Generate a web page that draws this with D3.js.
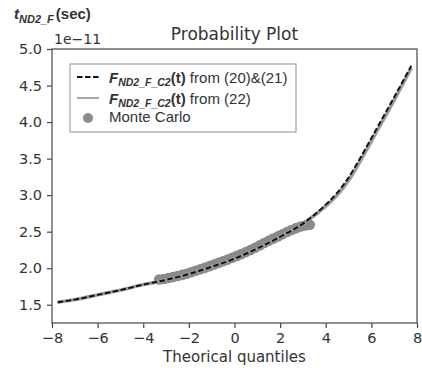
<!DOCTYPE html>
<html>
<head>
<meta charset="utf-8">
<script src="https://d3js.org/d3.v7.min.js"></script>
<style>
  body { margin: 0; background: #fff; }
  svg text { fill: #333; }
</style>
</head>
<body>
<svg id="chart" width="422" height="373"></svg>
<script>
// theoretical quantiles for the model curves
var curveQ = [-7.75, -7, -6, -5, -4, -3, -2, -1, 0, 1, 2, 3, 4, 4.5, 5, 5.5, 6, 7, 7.75];
// F_ND2_F_C2(t) from (20)&(21), units of 1e-11 s
var eq2021 = [1.535, 1.57, 1.635, 1.70, 1.775, 1.84, 1.92, 2.02, 2.13, 2.27, 2.43, 2.61, 2.87, 3.03, 3.24, 3.50, 3.78, 4.34, 4.77];
// F_ND2_F_C2(t) from (22)
var eq22 = [1.535, 1.57, 1.635, 1.70, 1.775, 1.84, 1.92, 2.02, 2.13, 2.27, 2.43, 2.61, 2.85, 3.00, 3.20, 3.46, 3.74, 4.30, 4.74];

// Monte Carlo samples (quantile, value)
var mcQ = [-3.3, -3.1, -2.9, -2.7, -2.5, -2.3, -2.1, -1.9, -1.7, -1.5, -1.3, -1.1, -0.9, -0.7, -0.5, -0.3, -0.1,
           0.1, 0.3, 0.5, 0.7, 0.9, 1.1, 1.3, 1.5, 1.7, 1.9, 2.1, 2.3, 2.5, 2.7, 2.9, 3.1, 3.3];
var mcVal = [1.845, 1.852, 1.865, 1.878, 1.893, 1.908, 1.925, 1.945, 1.965, 1.985, 2.005, 2.028, 2.05, 2.073, 2.095, 2.118, 2.142,
             2.168, 2.193, 2.22, 2.25, 2.28, 2.312, 2.345, 2.375, 2.405, 2.435, 2.465, 2.495, 2.522, 2.548, 2.57, 2.585, 2.595];

var xTicks = [-8, -6, -4, -2, 0, 2, 4, 6, 8];
var yTicks = [1.5, 2.0, 2.5, 3.0, 3.5, 4.0, 4.5, 5.0];

var margin = {top: 49, right: 6, bottom: 50, left: 52},
    width = 417 - margin.left,
    height = 323 - margin.top;

var svg = d3.select("#chart");
var g = svg.append("g")
    .attr("transform", "translate(" + margin.left + "," + margin.top + ")");

var x = d3.scaleLinear().domain([-8, 8]).range([0, width]);
var y = d3.scaleLinear().domain([1.25, 5.0]).range([height, 0]);

var tickFont = "'DejaVu Sans', sans-serif";

// axes
var xAxis = g.append("g")
    .attr("transform", "translate(0," + height + ")")
    .call(d3.axisBottom(x).tickValues(xTicks).tickSize(5).tickPadding(5)
        .tickFormat(function(d) { return d < 0 ? "\u2212" + (-d) : d; }));
var yAxis = g.append("g")
    .call(d3.axisLeft(y).tickValues(yTicks).tickSize(5).tickPadding(5).tickFormat(d3.format(".1f")));

[xAxis, yAxis].forEach(function(a) {
    a.select(".domain").remove();
    a.selectAll("line").attr("stroke", "#444").attr("stroke-width", 1.2);
    a.selectAll("text").style("font-family", tickFont).style("font-size", "14.5px").attr("fill", "#333");
});

// frame
g.append("rect")
    .attr("width", width).attr("height", height)
    .attr("fill", "none").attr("stroke", "#555").attr("stroke-width", 1.3);

var line = d3.line()
    .x(function(d) { return x(d[0]); })
    .y(function(d) { return y(d[1]); })
    .curve(d3.curveMonotoneX);

// Monte Carlo points
g.selectAll(".mc")
    .data(d3.zip(mcQ, mcVal))
    .enter().append("circle")
    .attr("cx", function(d) { return x(d[0]); })
    .attr("cy", function(d) { return y(d[1]); })
    .attr("r", 5.3)
    .attr("fill", "#8a8a8a");

// (22) solid gray
g.append("path")
    .datum(d3.zip(curveQ, eq22))
    .attr("d", line)
    .attr("fill", "none")
    .attr("stroke", "#9a9a9a")
    .attr("stroke-width", 3.5);

// (20)&(21) dashed black
g.append("path")
    .datum(d3.zip(curveQ, eq2021))
    .attr("d", line)
    .attr("fill", "none")
    .attr("stroke", "#111")
    .attr("stroke-width", 2)
    .attr("stroke-dasharray", "5.5,2.5");

// title and labels
svg.append("text")
    .attr("x", margin.left + width / 2).attr("y", 40)
    .attr("text-anchor", "middle")
    .style("font-family", tickFont).style("font-size", "17px")
    .text("Probability Plot");

svg.append("text")
    .attr("x", 54).attr("y", 44)
    .style("font-family", tickFont).style("font-size", "14px")
    .text("1e\u221211");

svg.append("text")
    .attr("x", margin.left + width / 2).attr("y", 362)
    .attr("text-anchor", "middle")
    .style("font-family", tickFont).style("font-size", "15px")
    .text("Theorical quantiles");

var arial = "'Liberation Sans', Arial, sans-serif";
var yl = svg.append("text")
    .attr("x", 14).attr("y", 19)
    .style("font-family", arial).style("font-weight", "bold").style("font-size", "15px");
yl.append("tspan").style("font-style", "italic").text("t");
yl.append("tspan").attr("dy", 4).style("font-style", "italic").style("font-size", "11px").text("ND2_F");
yl.append("tspan").attr("dy", -4).attr("dx", 2).text("(sec)");

// legend
var lg = svg.append("g");
lg.append("rect")
    .attr("x", 70).attr("y", 64).attr("width", 226).attr("height", 68)
    .attr("fill", "#fff").attr("stroke", "#aaa").attr("stroke-width", 1.3);

lg.append("line").attr("x1", 77).attr("x2", 99).attr("y1", 77).attr("y2", 77)
    .attr("stroke", "#111").attr("stroke-width", 2).attr("stroke-dasharray", "5.5,2.5");
lg.append("line").attr("x1", 77).attr("x2", 99).attr("y1", 98).attr("y2", 98)
    .attr("stroke", "#888").attr("stroke-width", 1.5);
lg.append("circle").attr("cx", 88).attr("cy", 118).attr("r", 5).attr("fill", "#8a8a8a");

function legendEntry(yy, rest) {
    var t = lg.append("text").attr("x", 109).attr("y", yy)
        .style("font-family", arial).style("font-size", "15px");
    t.append("tspan").style("font-weight", "bold").style("font-style", "italic").text("F");
    t.append("tspan").attr("dy", 3).style("font-weight", "bold").style("font-style", "italic")
        .style("font-size", "10.5px").text("ND2_F_C2");
    t.append("tspan").attr("dy", -3).style("font-weight", "bold").text("(t)");
    t.append("tspan").text(rest);
}
legendEntry(83, " from (20)&(21)");
legendEntry(104, " from (22)");
lg.append("text").attr("x", 109).attr("y", 122)
    .style("font-family", arial).style("font-size", "15px")
    .text("Monte Carlo");
</script>
</body>
</html>
